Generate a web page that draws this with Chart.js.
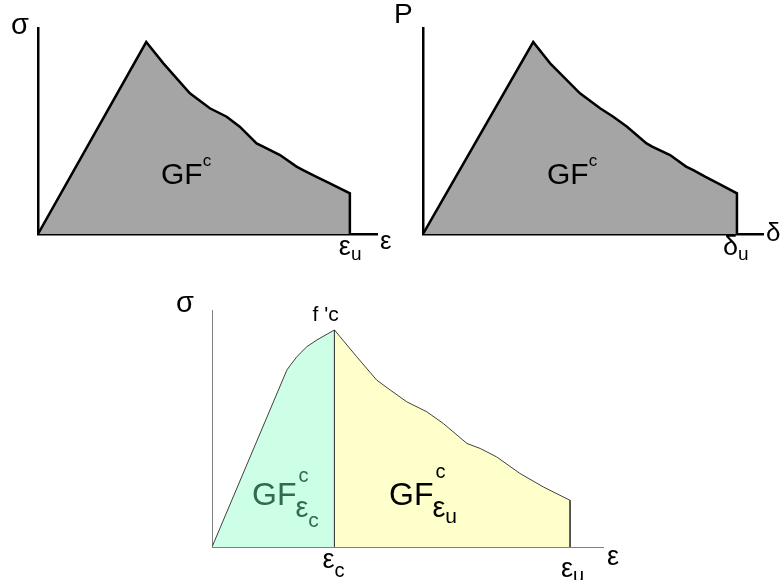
<!DOCTYPE html>
<html>
<head>
<meta charset="utf-8">
<script src="https://cdn.jsdelivr.net/npm/chart.js@4.4.1/dist/chart.umd.min.js"></script>
<style>
  body { margin: 0; background: #fff; }
  #wrap { position: relative; width: 782px; height: 580px; }
  #wrap canvas { position: absolute; left: 0; top: 0; }
</style>
</head>
<body>
<div id="wrap">
  <canvas id="stressChart" width="782" height="580"></canvas>
  <canvas id="loadChart" width="782" height="580"></canvas>
  <canvas id="splitChart" width="782" height="580"></canvas>
</div>
<script>
// ==== Données (unités normalisées : εu = 1, pic = 1)
const strainTop = [0, 0.347, 0.402, 0.487, 0.551, 0.605, 0.647, 0.701, 0.722, 0.776, 0.829, 0.850, 0.893, 0.936, 1.0, 1.0];
const stressTop = [0, 1.0, 0.889, 0.733, 0.655, 0.611, 0.559, 0.472, 0.455, 0.411, 0.351, 0.333, 0.298, 0.264, 0.212, 0];

// même courbe en charge / déplacement
const dispTop = [0, 0.351, 0.405, 0.500, 0.564, 0.606, 0.650, 0.712, 0.730, 0.787, 0.838, 0.861, 0.900, 0.940, 1.0, 1.0];
const loadTop = stressTop;

// courbe du bas : branche montante (jusqu'à εc) et descendante (jusqu'à εu)
const strainUp = [0, 0.209, 0.219, 0.237, 0.265, 0.293, 0.342, 0.342];
const stressUp = [0, 0.815, 0.838, 0.877, 0.923, 0.954, 1.0, 0];
const strainDown = [0.342, 0.404, 0.460, 0.498, 0.544, 0.600, 0.646, 0.712, 0.749, 0.795, 0.860, 0.925, 1.0, 1.0];
const stressDown = [1.0, 0.877, 0.769, 0.723, 0.669, 0.623, 0.569, 0.477, 0.454, 0.415, 0.339, 0.277, 0.215, 0];

const EPS_C = 0.342;
const EPS_U = 1.0;

const FONT = '"Liberation Sans", Arial, sans-serif';

// ==== Helpers
function pts(xs, ys) {
  return xs.map((x, i) => ({ x, y: ys[i] }));
}

// texte avec indices / exposants : parts = [[texte, taille, décalage y], ...]
function rich(ctx, x, y, parts, color) {
  ctx.fillStyle = color || "#000";
  ctx.textBaseline = "alphabetic";
  ctx.textAlign = "left";
  let cx = x;
  for (const [t, size, dy] of parts) {
    ctx.font = `${size}px ${FONT}`;
    ctx.fillText(t, cx, y + (dy || 0));
    cx += ctx.measureText(t).width;
  }
}

function axisScales(xMax, yMax, color, width) {
  const common = {
    type: "linear",
    min: 0,
    ticks: { display: false },
    grid: { display: false, drawTicks: false },
    border: { display: true, color, width },
  };
  return {
    x: { ...common, max: xMax, afterFit: (s) => { s.height = 0; } },
    y: { ...common, max: yMax, afterFit: (s) => { s.width = 0; } },
  };
}

function makeChart(id, datasets, padding, scales, labels) {
  return new Chart(document.getElementById(id), {
    type: "line",
    data: { datasets },
    options: {
      responsive: false,
      animation: false,
      devicePixelRatio: 1,
      layout: { padding },
      scales,
      plugins: { legend: { display: false }, tooltip: { enabled: false } },
      elements: { point: { radius: 0 }, line: { tension: 0 } },
    },
    plugins: [{ id: "labels", afterDraw: (chart) => labels(chart, chart.ctx) }],
  });
}

// ==== σ – ε
makeChart(
  "stressChart",
  [{ data: pts(strainTop, stressTop), borderColor: "#000", borderWidth: 2.5, backgroundColor: "#a5a5a5", fill: "origin" }],
  { left: 38, top: 28, right: 405, bottom: 346 },
  axisScales(1.087, 1.073, "#000", 2.5),
  (chart, ctx) => {
    const a = chart.chartArea, sx = chart.scales.x;
    rich(ctx, 11, 34, [["σ", 29]]);
    rich(ctx, a.right + 3, 249, [["ε", 26]]);
    rich(ctx, sx.getPixelForValue(EPS_U) - 11, 255, [["ε", 27], ["u", 19, 5]]);
    rich(ctx, 161, 184, [["GF", 30], ["c", 17, -18]]);
  }
);

// ==== P – δ
makeChart(
  "loadChart",
  [{ data: pts(dispTop, loadTop), borderColor: "#000", borderWidth: 2.5, backgroundColor: "#a5a5a5", fill: "origin" }],
  { left: 423, top: 28, right: 19, bottom: 346 },
  axisScales(1.083, 1.073, "#000", 2.5),
  (chart, ctx) => {
    const a = chart.chartArea, sx = chart.scales.x;
    rich(ctx, 394, 23, [["P", 28]]);
    rich(ctx, a.right + 3, 241, [["δ", 26]]);
    rich(ctx, sx.getPixelForValue(EPS_U) - 14, 255, [["δ", 27], ["u", 19, 5]]);
    rich(ctx, 547, 184, [["GF", 30], ["c", 17, -18]]);
  }
);

// ==== σ – ε découpé en εc
makeChart(
  "splitChart",
  [
    { data: pts(strainUp, stressUp), borderColor: "#404040", borderWidth: 1, backgroundColor: "#ccffe5", fill: "origin" },
    { data: pts(strainDown, stressDown), borderColor: "#404040", borderWidth: 1, backgroundColor: "#ffffcc", fill: "origin" },
  ],
  { left: 212, top: 310, right: 179, bottom: 33 },
  axisScales(1.092, 1.092, "#808080", 1),
  (chart, ctx) => {
    const a = chart.chartArea, sx = chart.scales.x;
    const xc = sx.getPixelForValue(EPS_C), xu = sx.getPixelForValue(EPS_U);
    rich(ctx, 176, 312, [["σ", 29]]);
    rich(ctx, xc - 22, 321, [["f 'c", 21]]);
    rich(ctx, a.right + 4, 565, [["ε", 27]]);
    rich(ctx, xc - 12, 568, [["ε", 27], ["c", 20, 9]]);
    rich(ctx, xu - 9, 577, [["ε", 27], ["u", 20, 5]]);
    // aires
    ctx.font = `32px ${FONT}`;
    const wGF = ctx.measureText("GF").width;
    rich(ctx, 252, 505, [["GF", 32]], "#2f6b4f");
    rich(ctx, 252 + wGF + 2, 482, [["c", 20]], "#2f6b4f");
    rich(ctx, 252 + wGF - 1, 517, [["ε", 29], ["c", 21, 10]], "#2f6b4f");
    rich(ctx, 389, 505, [["GF", 32]]);
    rich(ctx, 389 + wGF + 2, 478, [["c", 20]]);
    rich(ctx, 389 + wGF - 1, 517, [["ε", 29], ["u", 21, 6]]);
  }
);
</script>
</body>
</html>
